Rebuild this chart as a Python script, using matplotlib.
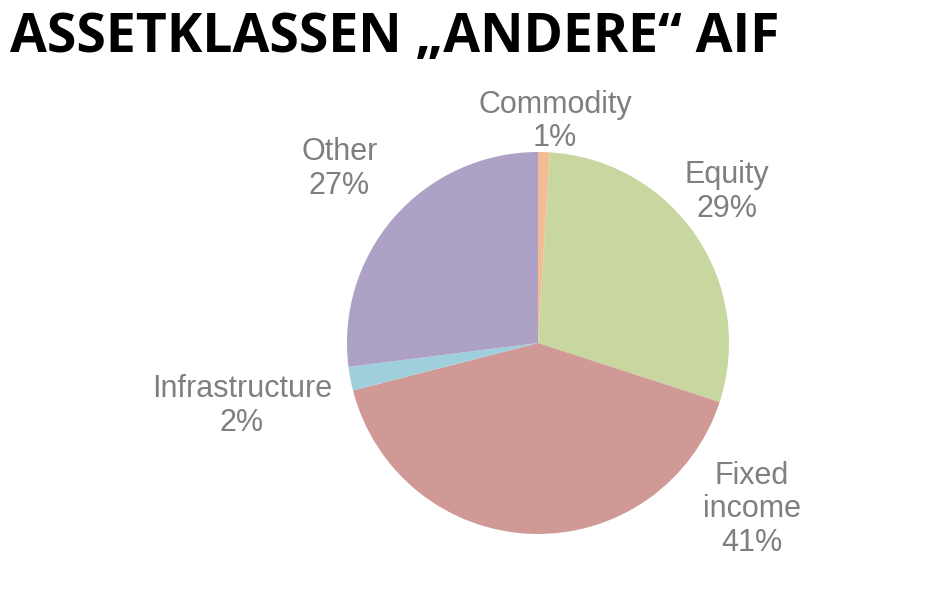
import numpy as np
import matplotlib.pyplot as plt

# ---------------- data ---------------- #
categories = ['Commodity', 'Equity', 'Fixed\nincome', 'Infrastructure', 'Other']
shares = [1, 29, 41, 2, 27]
colors = ['#F2BD95', '#C8D6A0', '#D09996', '#9FCFDB', '#ADA1C6']

# label centres, in units of the pie radius
label_pos = [(0.09, 1.16), (0.99, 0.79), (1.12, -0.87), (-1.55, -0.33), (-1.04, 0.91)]

# ---------------- plot ---------------- #
fig = plt.figure(figsize=(9.4, 6.09), dpi=100)
ax = fig.add_axes([0, 0, 1, 1])

ax.pie(shares, colors=colors, startangle=90, counterclock=False, radius=1,
       center=(0, 0), wedgeprops=dict(linewidth=0))

for cat, val, (x, y) in zip(categories, shares, label_pos):
    ax.text(x, y, '%s\n%d%%' % (cat, val), ha='center', va='center',
            fontsize=22, color='#7F7F7F', family='Liberation Sans', linespacing=1.15)

# pie centre at (538, 343) px, radius 191 px
r = 191.0
ax.set_xlim(-538 / r, (940 - 538) / r)
ax.set_ylim(-(609 - 343) / r, 343 / r)
ax.set_aspect('equal')
ax.axis('off')

fig.text(10 / 940, 1 - 52 / 609, 'ASSETKLASSEN \u201eANDERE\u201c AIF', ha='left', va='baseline',
         fontsize=38.5, fontweight='bold', family='Open Sans', fontstretch='condensed', color='black')

fig.savefig('out.png', dpi=100, facecolor='white')
